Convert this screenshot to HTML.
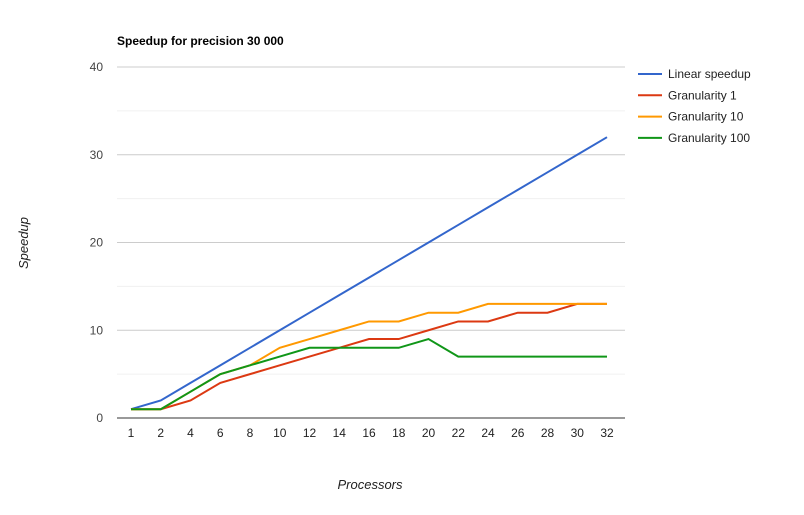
<!DOCTYPE html>
<html><head><meta charset="utf-8"><style>
body{margin:0;background:#fff;font-family:"Liberation Sans",Arial,sans-serif}
svg text{font-family:"Liberation Sans",Arial,sans-serif}
</style></head><body>
<svg id="c" width="804" height="510" xmlns="http://www.w3.org/2000/svg">
<text x="117" y="45" font-size="12" font-weight="bold" fill="#000">Speedup for precision 30 000</text>
<text x="370" y="489" font-size="13" font-style="italic" fill="#222" text-anchor="middle">Processors</text>
<text transform="translate(28,243) rotate(-90)" font-size="13" font-style="italic" fill="#222" text-anchor="middle">Speedup</text>
<g id="grid"></g><g id="lines"></g><g id="legend"></g>
</svg>
<script>
const categories=["1","2","4","6","8","10","12","14","16","18","20","22","24","26","28","30","32"];
const linear=[1,2,4,6,8,10,12,14,16,18,20,22,24,26,28,30,32];
const gran1=[1,1,2,4,5,6,7,8,9,9,10,11,11,12,12,13,13];
const gran10=[1,1,3,5,6,8,9,10,11,11,12,12,13,13,13,13,13];
const gran100=[1,1,3,5,6,7,8,8,8,8,9,7,7,7,7,7,7];
const yTicks=[0,10,20,30,40];
const seriesNames=["Linear speedup","Granularity 1","Granularity 10","Granularity 100"];
const NS="http://www.w3.org/2000/svg";
const X=i=>131+i*(607-131)/(categories.length-1);
const Y=v=>418-v*(418-67)/40;
const grid=document.getElementById('grid'),lines=document.getElementById('lines'),legend=document.getElementById('legend');
function mk(tag,attrs,parent){const e=document.createElementNS(NS,tag);for(const k in attrs)e.setAttribute(k,attrs[k]);parent.appendChild(e);return e;}
for(let v=5;v<=40;v+=10){const l=mk('line',{x1:117,x2:625,y1:Y(v),y2:Y(v),stroke:'#f0f0f0'},grid);

}
yTicks.forEach(v=>{const l=mk('line',{x1:117,x2:625,y1:Y(v),y2:Y(v),stroke:v===0?'#333':'#ccc'},grid);


const t=mk('text',{x:103,y:Y(v)+4,'font-size':12,fill:'#444','text-anchor':'end'},grid);t.textContent=v;

});
categories.forEach((c,i)=>{const t=mk('text',{x:X(i),y:437,'font-size':12,fill:'#222','text-anchor':'middle'},grid);t.textContent=c;

});
const data=[linear,gran1,gran10,gran100],colors=['#3366cc','#dc3912','#ff9900','#109618'];
data.forEach((d,s)=>{const p=mk('polyline',{points:d.map((v,i)=>X(i)+','+Y(v)).join(' '),fill:'none',stroke:colors[s],'stroke-width':2},lines);


const ly=74+s*21.3;
const g=mk('g',{},legend);


mk('line',{x1:638,x2:662,y1:ly,y2:ly,stroke:colors[s],'stroke-width':2},g);
const t=mk('text',{x:668,y:ly+4,'font-size':12,fill:'#222'},g);t.textContent=seriesNames[s];});
</script>
</body></html>
